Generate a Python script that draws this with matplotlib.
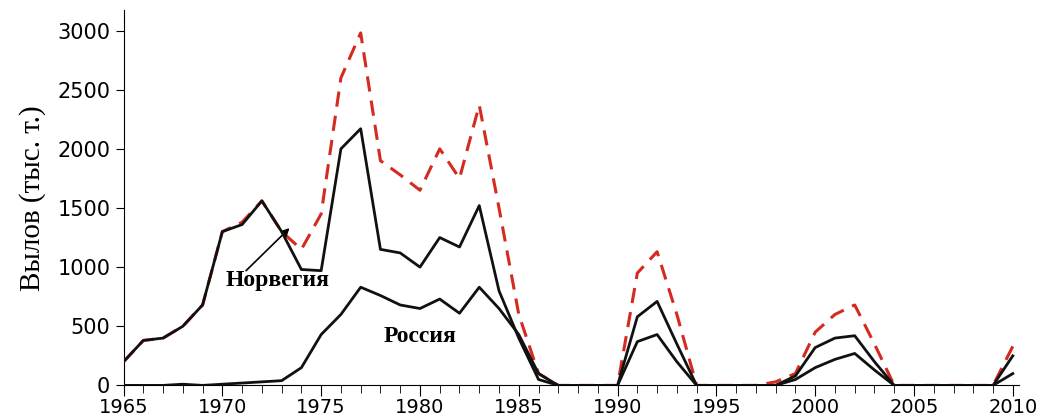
import numpy as np
import matplotlib
matplotlib.use('Agg')
import matplotlib.pyplot as plt
from matplotlib.ticker import MultipleLocator

years = list(range(1965, 2011))
total = [200, 380, 400, 500, 680, 1300, 1380, 1560, 1300, 1150, 1450, 2600, 2980, 1900, 1780, 1650,
         2000, 1750, 2370, 1500, 600, 100, 0, 0, 0, 0, 950, 1130, 600, 0,
         0, 0, 0, 30, 100, 450, 600, 680, 350, 0, 0, 0, 0, 0, 0, 330]
norway = [200, 380, 400, 500, 680, 1300, 1360, 1560, 1300, 980, 970, 2000, 2170, 1150, 1120, 1000,
          1250, 1170, 1520, 800, 400, 50, 0, 0, 0, 0, 580, 710, 350, 0,
          0, 0, 0, 0, 80, 320, 400, 420, 200, 0, 0, 0, 0, 0, 0, 250]
russia = [0, 0, 0, 10, 0, 10, 20, 30, 40, 150, 430, 600, 830, 760, 680, 650,
          730, 610, 830, 650, 430, 100, 0, 0, 0, 0, 370, 430, 200, 0,
          0, 0, 0, 0, 50, 150, 220, 270, 130, 0, 0, 0, 0, 0, 0, 100]

fig = plt.figure(figsize=(10.47, 4.18), dpi=100)
ax = fig.add_axes([0.118, 0.078, 0.855, 0.897])
ax.plot(years, total, color='#d42a20', lw=2.2, ls=(0, (5, 3)), zorder=3)
ax.plot(years, norway, color='#111111', lw=2.0, zorder=4)
ax.plot(years, russia, color='#111111', lw=2.0, zorder=4)

ax.set_xlim(1965, 2010.3)
ax.set_ylim(0, 3170)
ax.spines['top'].set_visible(False)
ax.spines['right'].set_visible(False)
ax.xaxis.set_major_locator(MultipleLocator(5))
ax.xaxis.set_minor_locator(MultipleLocator(1))
ax.yaxis.set_major_locator(MultipleLocator(500))
ax.tick_params(axis='x', which='major', length=8, labelsize=14, pad=1)
ax.tick_params(axis='x', which='minor', length=6)
ax.tick_params(axis='y', length=6, labelsize=15)
ax.set_ylabel('Вылов (тыс. т.)', family='Liberation Serif', fontsize=21, labelpad=8)

ax.annotate('', xy=(1973.4, 1330), xytext=(1971.2, 970),
            arrowprops=dict(arrowstyle='-|>', color='black', lw=1.2, mutation_scale=12,
                            shrinkA=0, shrinkB=0))
ax.text(1972.8, 890, 'Норвегия', ha='center', va='center',
        family='Liberation Serif', fontweight='bold', fontsize=17)
ax.text(1980.0, 410, 'Россия', ha='center', va='center',
        family='Liberation Serif', fontweight='bold', fontsize=17)

fig.savefig('out.png', dpi=100)
